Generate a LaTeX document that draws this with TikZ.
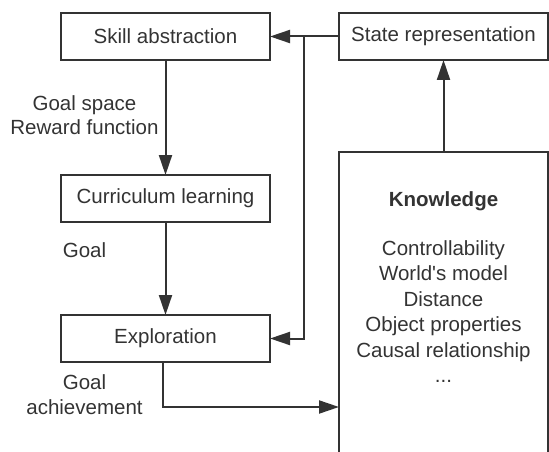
\documentclass[tikz,border=0pt]{standalone}
\usepackage{fontspec}
\setmainfont{Liberation Sans}
\usetikzlibrary{arrows.meta,calc}
\definecolor{ink}{HTML}{333333}
\tikzset{
  box/.style={draw=ink, line width=2pt, rectangle, minimum width=209pt, minimum height=47pt, inner sep=0pt, outer sep=0pt, text=ink},
  lbl/.style={text=ink, align=center, inner sep=0pt},
  kline/.style={text=ink, inner sep=0pt, text height=14pt, text depth=4pt},
  conn/.style={draw=ink, line width=2pt, -{Triangle[length=20pt,width=13pt]}},
  plain/.style={draw=ink, line width=2pt}
}
\begin{document}
\begin{tikzpicture}[x=1pt,y=-1pt,font=\fontsize{20.5}{24.5}\selectfont]
\useasboundingbox (0,0) rectangle (549,452);
\node[box] (skill) at (165.5,36.5) {Skill abstraction};
\node[box] (state) at (443.5,36.5) {State representation};
\node[box] (curr) at (165.5,198.5) {Curriculum learning};
\node[box] (expl) at (165.5,338.5) {Exploration};
\node[box, minimum height=330pt, anchor=north] (know) at (443.5,152) {};
\node[kline, font=\fontsize{20.5}{24.5}\selectfont\bfseries] (ktitle) at (443.5,201) {Knowledge};
\node[kline] (k1) at (443.5,250) {Controllability};
\node[kline] (k2) at (443.5,275.5) {World\textquotesingle s model};
\node[kline] (k3) at (443.5,301) {Distance};
\node[kline] (k4) at (443.5,326.5) {Object properties};
\node[kline] (k5) at (443.5,352) {Causal relationship};
\node[kline] (k6) at (443.5,377.5) {...};
\node[lbl] (l1) at (84.5,115) {Goal space\\Reward function};
\node[lbl] (l2) at (84.5,250) {Goal};
\node[lbl] (l3) at (84.5,394.5) {Goal\\achievement};
\coordinate (j) at (304,36.5);
\coordinate (kin) at (339,407);
\coordinate (eout) at ($(expl.south)+(-2.5,0)$);
\draw[conn] (state.west) -- (skill.east);
\draw[conn] (j) |- (expl.east);
\draw[conn] (skill.south) -- (curr.north);
\draw[conn] (curr.south) -- (expl.north);
\draw[conn] (eout) |- (kin);
\draw[conn] (know.north) -- (state.south);
\end{tikzpicture}
\end{document}
